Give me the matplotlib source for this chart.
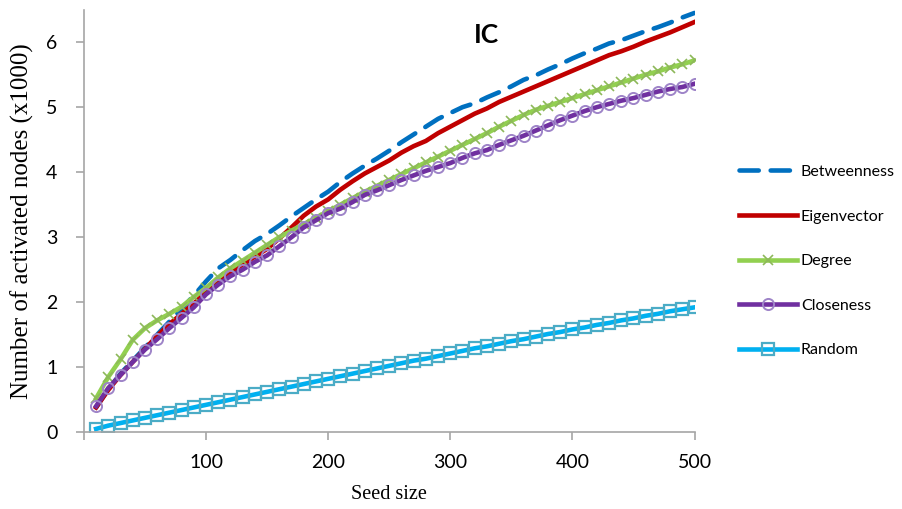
import matplotlib.pyplot as plt
import numpy as np

# seed size 10..500, step 10
seed = list(range(10, 501, 10))

betweenness = [0.38, 0.66, 0.90, 1.10, 1.30, 1.50, 1.70, 1.90, 2.10, 2.32,
               2.52, 2.65, 2.80, 2.94, 3.05, 3.18, 3.32, 3.45, 3.58, 3.70,
               3.85, 3.98, 4.10, 4.21, 4.33, 4.46, 4.58, 4.70, 4.82, 4.91,
               5.00, 5.06, 5.15, 5.23, 5.32, 5.42, 5.49, 5.58, 5.66, 5.75,
               5.83, 5.90, 5.98, 6.03, 6.10, 6.17, 6.23, 6.30, 6.38, 6.45]
eigenvector = [0.38, 0.65, 0.88, 1.08, 1.28, 1.48, 1.66, 1.82, 1.98, 2.15,
               2.30, 2.45, 2.58, 2.70, 2.82, 2.98, 3.15, 3.33, 3.47, 3.58,
               3.73, 3.86, 3.98, 4.08, 4.18, 4.30, 4.40, 4.48, 4.60, 4.70,
               4.80, 4.90, 4.98, 5.08, 5.16, 5.24, 5.32, 5.40, 5.48, 5.56,
               5.64, 5.72, 5.80, 5.86, 5.93, 6.01, 6.08, 6.15, 6.23, 6.31]
degree = [0.52, 0.85, 1.12, 1.42, 1.60, 1.72, 1.82, 1.93, 2.08, 2.22,
          2.38, 2.52, 2.64, 2.76, 2.88, 3.00, 3.10, 3.20, 3.30, 3.40,
          3.50, 3.60, 3.70, 3.79, 3.88, 3.97, 4.06, 4.15, 4.24, 4.33,
          4.42, 4.51, 4.60, 4.70, 4.79, 4.88, 4.96, 5.02, 5.08, 5.14,
          5.20, 5.26, 5.32, 5.38, 5.44, 5.50, 5.55, 5.61, 5.66, 5.72]
closeness = [0.40, 0.68, 0.88, 1.08, 1.27, 1.43, 1.60, 1.76, 1.92, 2.12,
             2.27, 2.40, 2.50, 2.62, 2.72, 2.86, 3.00, 3.15, 3.26, 3.37,
             3.44, 3.54, 3.65, 3.72, 3.80, 3.88, 3.95, 4.02, 4.08, 4.14,
             4.22, 4.29, 4.34, 4.42, 4.49, 4.56, 4.64, 4.72, 4.80, 4.87,
             4.94, 5.00, 5.05, 5.10, 5.14, 5.19, 5.24, 5.28, 5.31, 5.36]
random_ = [0.05, 0.10, 0.14, 0.18, 0.22, 0.26, 0.30, 0.34, 0.38, 0.42,
           0.46, 0.50, 0.54, 0.58, 0.62, 0.66, 0.70, 0.74, 0.78, 0.82,
           0.86, 0.90, 0.94, 0.98, 1.02, 1.06, 1.10, 1.13, 1.17, 1.21,
           1.25, 1.29, 1.32, 1.36, 1.40, 1.43, 1.47, 1.51, 1.54, 1.58,
           1.61, 1.65, 1.68, 1.72, 1.75, 1.79, 1.82, 1.86, 1.89, 1.92]

xticks = [100, 200, 300, 400, 500]
yticks = [0, 1, 2, 3, 4, 5, 6]

fig = plt.figure(figsize=(9.02, 5.09), dpi=100)
ax = fig.add_axes([0.093, 0.151, 0.677, 0.830])

ax.plot(seed, betweenness, color='#0070C0', lw=3.3, ls=(0, (4.2, 2.6)),
        dash_capstyle='round', label='Betweenness')
ax.plot(seed, eigenvector, color='#C00000', lw=3.3, label='Eigenvector')
ax.plot(seed, degree, color='#92D050', lw=3.3, marker='x', ms=7,
        mec='#8DB85A', mew=1.2, label='Degree')
ax.plot(seed, closeness, color='#7030A0', lw=3.3, marker='o', ms=8,
        mfc='none', mec='#9E84C8', mew=1.4, label='Closeness')
ax.plot(seed, random_, color='#00B0F0', lw=3.3, marker='s', ms=8,
        mfc='none', mec='#4BACC6', mew=1.6, label='Random')

ax.set_xlim(0, 500)
ax.set_ylim(0, 6.5)
ax.set_xticks([0] + xticks)
ax.set_xticklabels([''] + [str(v) for v in xticks])
ax.set_yticks(yticks)

for s in ['top', 'right']:
    ax.spines[s].set_visible(False)
for s in ['left', 'bottom']:
    ax.spines[s].set_color('#A6A6A6')
    ax.spines[s].set_linewidth(1.2)
ax.tick_params(colors='#A6A6A6', length=6, width=1.2, labelcolor='black',
               labelsize=14)
for lab in ax.get_xticklabels() + ax.get_yticklabels():
    lab.set_family('Lato')
ax.tick_params(axis='x', pad=10)
ax.tick_params(axis='y', pad=13)

ax.set_xlabel('Seed size', family='Liberation Serif', fontsize=14.5, labelpad=10)
ax.set_ylabel('Number of activated nodes (x1000)', family='Liberation Serif',
              fontsize=18, labelpad=9)

ax.text(0.66, 0.94, 'IC', transform=ax.transAxes, ha='center', va='center',
        family='Lato', fontweight='bold', fontsize=19)

leg = ax.legend(loc='center left', bbox_to_anchor=(1.05, 0.405), frameon=False,
                handlelength=3.6, labelspacing=1.9,
                prop={'family': 'Lato', 'size': 11.5}, handletextpad=0.25)

fig.savefig('out.png', dpi=100)
